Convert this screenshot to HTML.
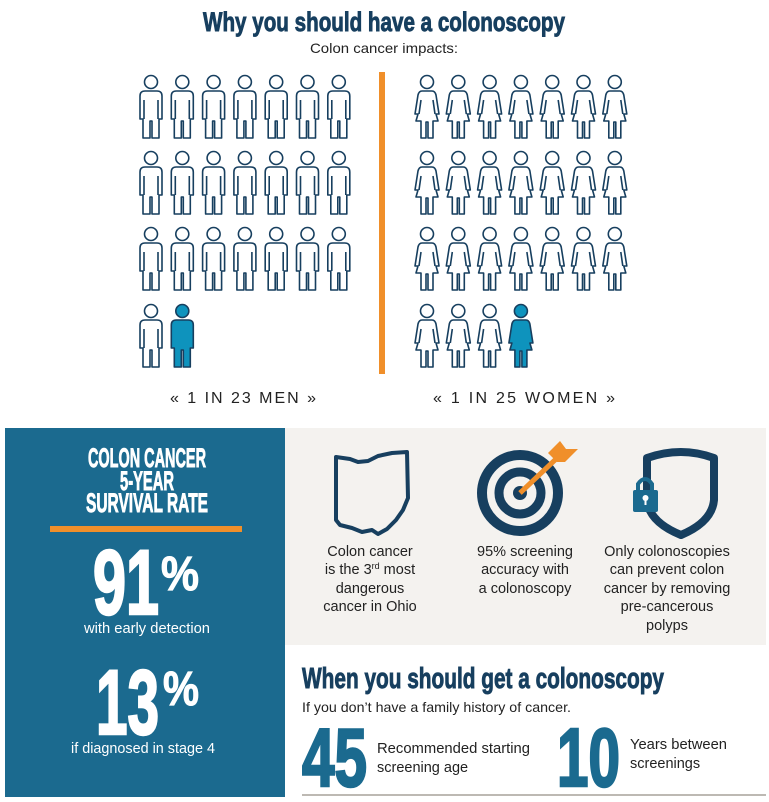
<!DOCTYPE html>
<html><head><meta charset="utf-8"><style>html,body{margin:0;padding:0;background:#fff}svg{display:block}</style></head>
<body>
<svg width="769" height="802" viewBox="0 0 769 802" xmlns="http://www.w3.org/2000/svg" font-family="Liberation Sans, sans-serif">
<defs>
<g id="man">
<circle cx="13" cy="8" r="6.5" fill="#fff" stroke="#173f5f" stroke-width="1.6"/>
<path d="M7,17 H19 Q24,17 24,22 V45 H21 V64 H14 V47 H12 V64 H5 V45 H2 V22 Q2,17 7,17 Z M6,26 V45 M20,26 V45" fill="#fff" stroke="#173f5f" stroke-width="1.6" stroke-linejoin="round"/>
</g>
<g id="manB">
<circle cx="13" cy="8" r="6.5" fill="#0e93bd" stroke="#173f5f" stroke-width="1.6"/>
<path d="M7,17 H19 Q24,17 24,22 V45 H21 V64 H14 V47 H12 V64 H5 V45 H2 V22 Q2,17 7,17 Z" fill="#0e93bd" stroke="#173f5f" stroke-width="1.6" stroke-linejoin="round"/>
</g>
<g id="woman">
<circle cx="13" cy="8" r="6.5" fill="#fff" stroke="#173f5f" stroke-width="1.6"/>
<path d="M8,17 H18 Q21,17 22,21 L25,40 H22 L24,47 H19 V64 H14 V48 H12 V64 H7 V47 H2 L4,40 H1 L4,21 Q5,17 8,17 Z M7,26 L5,40 M19,26 L21,40" fill="#fff" stroke="#173f5f" stroke-width="1.6" stroke-linejoin="round"/>
</g>
<g id="womanB">
<circle cx="13" cy="8" r="6.5" fill="#0e93bd" stroke="#173f5f" stroke-width="1.6"/>
<path d="M8,17 H18 Q21,17 22,21 L25,40 H22 L24,47 H19 V64 H14 V48 H12 V64 H7 V47 H2 L4,40 H1 L4,21 Q5,17 8,17 Z" fill="#0e93bd" stroke="#173f5f" stroke-width="1.6" stroke-linejoin="round"/>
</g>
<g id="mrow"><use href="#man" x="0"/><use href="#man" x="31.3"/><use href="#man" x="62.6"/><use href="#man" x="93.9"/><use href="#man" x="125.2"/><use href="#man" x="156.5"/><use href="#man" x="187.8"/></g>
<g id="wrow"><use href="#woman" x="0"/><use href="#woman" x="31.3"/><use href="#woman" x="62.6"/><use href="#woman" x="93.9"/><use href="#woman" x="125.2"/><use href="#woman" x="156.5"/><use href="#woman" x="187.8"/></g>
</defs>
<rect width="769" height="802" fill="#fff"/>
<text x="384" y="31" text-anchor="middle" font-size="27" font-weight="bold" fill="#173f5f" stroke="#173f5f" stroke-width="0.9" textLength="362" lengthAdjust="spacingAndGlyphs">Why you should have a colonoscopy</text>
<text x="384" y="53" text-anchor="middle" font-size="14" fill="#222" textLength="148" lengthAdjust="spacingAndGlyphs">Colon cancer impacts:</text>

<use href="#mrow" x="138" y="74"/><use href="#mrow" x="138" y="150"/><use href="#mrow" x="138" y="226"/>
<use href="#man" x="138" y="303"/><use href="#manB" x="169.3" y="303"/>
<rect x="379" y="72" width="6" height="302" fill="#f08f2a"/>
<use href="#wrow" x="414" y="74"/><use href="#wrow" x="414" y="150"/><use href="#wrow" x="414" y="226"/>
<use href="#woman" x="414" y="303"/><use href="#woman" x="445.3" y="303"/><use href="#woman" x="476.6" y="303"/><use href="#womanB" x="507.9" y="303"/>

<text x="170" y="403" font-size="16" fill="#222" textLength="146" lengthAdjust="spacing">« 1 IN 23 MEN »</text>
<text x="433" y="403" font-size="16" fill="#222" textLength="182" lengthAdjust="spacing">« 1 IN 25 WOMEN »</text>

<rect x="5" y="428" width="280" height="369" fill="#1b6a8f"/>
<rect x="285" y="428" width="481" height="217" fill="#f4f2ef"/>
<g fill="#fff" font-weight="bold" text-anchor="middle" stroke="#fff" stroke-width="0.9">
<text x="147" y="467" font-size="27" textLength="118" lengthAdjust="spacingAndGlyphs">COLON CANCER</text>
<text x="147" y="490" font-size="27" textLength="54" lengthAdjust="spacingAndGlyphs">5-YEAR</text>
<text x="147" y="512" font-size="27" textLength="122" lengthAdjust="spacingAndGlyphs">SURVIVAL RATE</text>
</g>
<rect x="50" y="526" width="192" height="6" fill="#f08f2a"/>
<g fill="#fff" font-weight="bold" stroke="#fff" stroke-width="2.5">
<text x="93" y="614" font-size="92" textLength="66" lengthAdjust="spacingAndGlyphs">91</text>
<text x="161" y="590" font-size="48" stroke-width="1" textLength="38" lengthAdjust="spacingAndGlyphs">%</text>
<text x="96" y="734" font-size="92" textLength="63" lengthAdjust="spacingAndGlyphs">13</text>
<text x="163" y="705" font-size="48" stroke-width="1" textLength="36" lengthAdjust="spacingAndGlyphs">%</text>
</g>
<text x="147" y="633" font-size="15" fill="#fff" text-anchor="middle" textLength="126" lengthAdjust="spacingAndGlyphs">with early detection</text>
<text x="143" y="753" font-size="15" fill="#fff" text-anchor="middle" textLength="144" lengthAdjust="spacingAndGlyphs">if diagnosed in stage 4</text>

<path d="M336,457 L350,459 L358,462 L368,461 L378,456 L392,453 L407,452 L408,498 L403,510 L396,520 L387,529 L378,534 L372,530 L362,532 L352,528 L340,525 L336,520 Z" fill="none" stroke="#173f5f" stroke-width="4" stroke-linejoin="round"/>
<circle cx="520" cy="493" r="38" fill="none" stroke="#173f5f" stroke-width="10"/>
<circle cx="520" cy="493" r="21" fill="none" stroke="#173f5f" stroke-width="9"/>
<circle cx="520" cy="493" r="7" fill="#173f5f"/>
<line x1="520" y1="493" x2="556" y2="459" stroke="#f08f2a" stroke-width="5"/>
<path d="M548,453 L560,441 L566,449 L578,449 L565,462 L557,462 Z" fill="#f08f2a"/>
<path d="M647,458 Q681,446 714,458 V500 Q712,522 681,535 Q649,522 647,500 Z" fill="none" stroke="#173f5f" stroke-width="8" stroke-linejoin="round"/>
<path d="M638,492 V484 Q645,474 652,484 V492" fill="none" stroke="#1b6a8f" stroke-width="4"/>
<rect x="633" y="490" width="25" height="22" rx="2" fill="#1b6a8f"/>
<circle cx="645.5" cy="498" r="3" fill="#fff"/><rect x="644.5" y="499" width="2" height="6" fill="#fff"/>

<g font-size="14.5" fill="#222" text-anchor="middle">
<text x="370" y="556">Colon cancer</text>
<text x="370" y="574">is the 3<tspan font-size="9" dy="-5">rd</tspan><tspan dy="5"> most</tspan></text>
<text x="370" y="593">dangerous</text>
<text x="370" y="611">cancer in Ohio</text>
<text x="525" y="556">95% screening</text>
<text x="525" y="574">accuracy with</text>
<text x="525" y="593">a colonoscopy</text>
<text x="667" y="556">Only colonoscopies</text>
<text x="667" y="574">can prevent colon</text>
<text x="667" y="593">cancer by removing</text>
<text x="667" y="611">pre-cancerous</text>
<text x="667" y="630">polyps</text>
</g>

<text x="302" y="688" font-size="29" font-weight="bold" fill="#173f5f" stroke="#173f5f" stroke-width="0.9" textLength="362" lengthAdjust="spacingAndGlyphs">When you should get a colonoscopy</text>
<text x="302" y="712" font-size="14" fill="#222" textLength="269" lengthAdjust="spacingAndGlyphs">If you don’t have a family history of cancer.</text>
<g fill="#1b6a8f" font-weight="bold" stroke="#1b6a8f" stroke-width="2.5">
<text x="302" y="786" font-size="83" textLength="65" lengthAdjust="spacingAndGlyphs">45</text>
<text x="557" y="786" font-size="83" textLength="63" lengthAdjust="spacingAndGlyphs">10</text>
</g>
<g font-size="14.5" fill="#222">
<text x="377" y="753" textLength="153" lengthAdjust="spacingAndGlyphs">Recommended starting</text>
<text x="377" y="772">screening age</text>
<text x="630" y="749" textLength="97" lengthAdjust="spacingAndGlyphs">Years between</text>
<text x="630" y="768">screenings</text>
</g>
<line x1="302" y1="795" x2="766" y2="795" stroke="#bdb9b3" stroke-width="2"/>
</svg>
</body></html>
